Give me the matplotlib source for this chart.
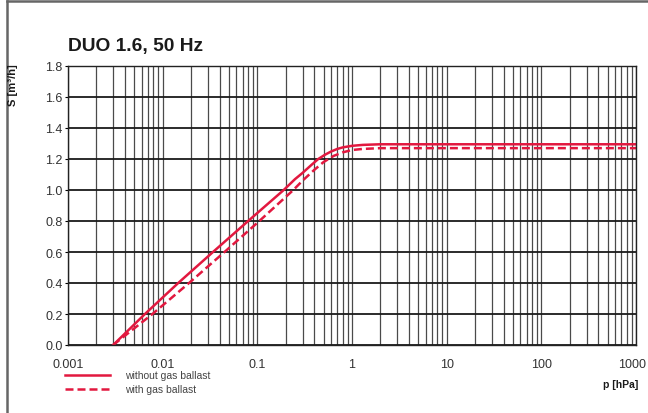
import numpy as np
import matplotlib
matplotlib.use("Agg")
import matplotlib.pyplot as plt
import matplotlib.transforms as mtransforms
from matplotlib.lines import Line2D

# values
p_solid = [0.003, 0.0065, 0.0146, 0.034, 0.08, 0.19, 0.25, 0.3, 0.37, 0.44, 0.52,
           0.6, 0.7, 0.8, 1.0, 1.3, 2, 1000]
s_solid = [0.0, 0.2, 0.4, 0.6, 0.8, 1.0, 1.07, 1.11, 1.16, 1.2, 1.228,
           1.248, 1.265, 1.275, 1.285, 1.291, 1.295, 1.295]

p_dash = [0.003, 0.0078, 0.019, 0.045, 0.105, 0.24, 0.3, 0.4, 0.5, 0.64, 0.8,
          1.0, 1.3, 2, 1000]
s_dash = [0.0, 0.2, 0.4, 0.6, 0.8, 1.0, 1.06, 1.13, 1.18, 1.22, 1.243,
          1.258, 1.265, 1.27, 1.27]

xticks = [0.001, 0.01, 0.1, 1, 10, 100, 1000]
xlabels = ["0.001", "0.01", "0.1", "1", "10", "100", "1000"]
yticks = [0.0, 0.2, 0.4, 0.6, 0.8, 1.0, 1.2, 1.4, 1.6, 1.8]

red = "#e2183f"
plt.rcParams['font.family'] = ['Liberation Sans', 'DejaVu Sans']

fig = plt.figure(figsize=(6.48, 4.14), dpi=100)
ax = fig.add_axes([68/648, 1-346/414, (636-68)/648, (346-67)/414])

ax.plot(p_solid, s_solid, color=red, lw=1.8, solid_joinstyle='round')
ax.plot(p_dash, s_dash, color=red, lw=1.8, dashes=(3.2, 1.6))

ax.set_xscale('log')
ax.set_xlim(0.001, 1000)
ax.set_ylim(0, 1.8)
ax.set_xticks(xticks)
ax.set_xticklabels(xlabels)
ax.set_yticks(yticks)
ax.set_yticklabels(["%.1f" % v for v in yticks])
ax.xaxis.set_minor_locator(matplotlib.ticker.LogLocator(base=10, subs=np.arange(2, 10)))
ax.xaxis.set_minor_formatter(matplotlib.ticker.NullFormatter())

ax.grid(True, which='major', axis='y', color='#1a1a1a', lw=1.3)
ax.grid(True, which='both', axis='x', color='#4a4a4a', lw=0.9)
ax.set_axisbelow(True)
ax.tick_params(axis='x', which='both', length=0, pad=9, labelsize=9, labelcolor='#333333')
ax.tick_params(axis='y', length=2, width=0.8, pad=2, labelsize=9, labelcolor='#333333')
for s in ax.spines.values():
    s.set_color('#222222')
    s.set_linewidth(1.0)

# keep "1000" inside the figure, as in the reference
last = ax.get_xticklabels()[-1]
last.set_horizontalalignment('right')
last.set_transform(last.get_transform() + mtransforms.ScaledTranslation(10/100, 0, fig.dpi_scale_trans))

fig.text(68/648, 1-47/414, "DUO 1.6, 50 Hz", fontsize=13.8, fontweight='bold',
         va='center', ha='left', color='#1a1a1a')
fig.text(13/648, 1-85/414, "S [m³/h]", fontsize=8, fontweight='bold',
         rotation=90, va='center', ha='center', color='#1a1a1a')
fig.text(638/648, 1-385/414, "p [hPa]", fontsize=7.5, fontweight='bold',
         va='center', ha='right', color='#1a1a1a')

# legend drawn by hand below the axes
fig.add_artist(Line2D([65/648, 110/648], [1-376/414, 1-376/414], color=red, lw=1.8))
fig.add_artist(Line2D([65/648, 110/648], [1-390/414, 1-390/414], color=red, lw=1.8,
                      dashes=(3.2, 1.6)))
fig.text(125/648, 1-376/414, "without gas ballast", fontsize=7.5, va='center',
         ha='left', color='#444444')
fig.text(125/648, 1-390/414, "with gas ballast", fontsize=7.5, va='center',
         ha='left', color='#444444')

# grey frame at left and top
fig.add_artist(Line2D([7/648, 7/648], [0, 1-2/414], color='#666666', lw=1.8))
fig.add_artist(Line2D([7/648, 1], [1-2/414, 1-2/414], color='#666666', lw=1.8))

fig.savefig("out.png", dpi=100)
